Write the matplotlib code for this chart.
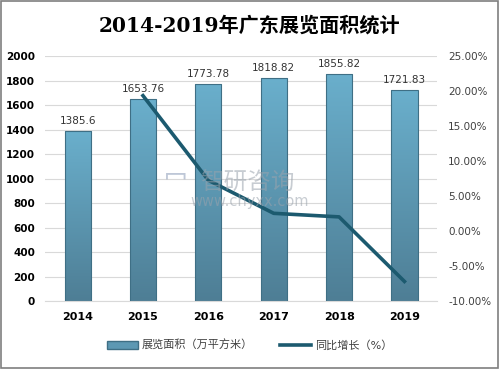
import matplotlib.pyplot as plt
import numpy as np
from matplotlib.colors import LinearSegmentedColormap
from matplotlib.patches import Rectangle
from matplotlib.lines import Line2D
from matplotlib.patches import Patch

plt.rcParams['font.family'] = ['DejaVu Sans', 'Noto Sans CJK SC']

years = ['2014', '2015', '2016', '2017', '2018', '2019']
area = [1385.6, 1653.76, 1773.78, 1818.82, 1855.82, 1721.83]
growth = [None, 19.35, 7.26, 2.54, 2.03, -7.19]

fig = plt.figure(figsize=(4.99, 3.69), dpi=100)
ax = fig.add_axes([0.090, 0.184, 0.786, 0.664])
ax2 = ax.twinx()

x = np.arange(len(years))
width = 0.4

# gradient bars (light top, darker bottom)
cmap = LinearSegmentedColormap.from_list('bar', ['#4e7e95', '#6aafcc'])
grad = np.linspace(0, 1, 256).reshape(-1, 1)
bars = ax.bar(x, area, width, color='none', edgecolor='#3f6f85', linewidth=0.8, zorder=3)
for b in bars:
    x0, y0 = b.get_x(), b.get_y()
    w, h = b.get_width(), b.get_height()
    im = ax.imshow(grad, extent=[x0, x0 + w, y0, y0 + h], origin='lower',
                   cmap=cmap, aspect='auto', zorder=2)
    im.set_clip_path(b)
for xi, v in zip(x, area):
    ax.text(xi, v + 40, f'{v:g}', ha='center', va='bottom', fontsize=7.5, color='#333333')

ax.set_xlim(-0.5, len(years) - 0.5)
ax.set_ylim(0, 2000)
ax.set_yticks(range(0, 2001, 200))
ax.set_xticks(x)
ax.set_xticklabels(years, fontsize=8, fontweight='bold')
ax.tick_params(axis='y', labelsize=7.5, length=0, pad=7)
for t in ax.get_yticklabels():
    t.set_fontweight('bold')
ax.tick_params(axis='x', length=0, pad=8)
ax.grid(axis='y', color='#d9d9d9', linewidth=0.8, zorder=0)
ax.set_axisbelow(True)
for s in ax.spines.values():
    s.set_visible(False)
ax.spines['bottom'].set_visible(True)
ax.spines['bottom'].set_color('#d9d9d9')

# growth line
gx = [xi for xi, g in zip(x, growth) if g is not None]
gy = [g for g in growth if g is not None]
ax2.plot(gx, gy, color='#1c5a6f', linewidth=2.6, zorder=4)
ax2.set_ylim(-10, 25)
ax2.set_yticks(range(-10, 26, 5))
ax2.set_yticklabels([f'{v:.2f}%' for v in range(-10, 26, 5)])
ax2.tick_params(axis='y', labelsize=7.5, length=0, pad=8, labelcolor='#404040')
for s in ax2.spines.values():
    s.set_visible(False)

# watermark
fig.text(0.40, 0.505, '智研咨询', fontsize=17, color='#9aa3ad', alpha=0.55, ha='left', va='center')
fig.text(0.375, 0.515, '冖', fontsize=17, color='#7f90b0', alpha=0.5, ha='right', va='center')
fig.text(0.50, 0.455, 'www.chyxx.com', fontsize=10.5, color='#9aa3ad', alpha=0.55, ha='center', va='center')

# title
fig.text(0.5, 0.93, '2014-2019年广东展览面积统计', ha='center', va='center', fontsize=14.5,
         fontweight='bold', family=['DejaVu Serif', 'Noto Sans CJK SC'])

# legend
handles = [Patch(facecolor='#5d98b3', edgecolor='#3f6f85'),
           Line2D([0], [0], color='#1c5a6f', linewidth=2.6)]
leg = fig.legend(handles, ['展览面积（万平方米）', '同比增长（%）'], loc='center', bbox_to_anchor=(0.5, 0.065),
                 ncol=2, frameon=False, fontsize=8, handlelength=2.8, columnspacing=2.5, handletextpad=0.3)
for t in leg.get_texts():
    t.set_color('#404040')

fig.patches.append(Rectangle((0.002, 0.003), 0.995, 0.994, transform=fig.transFigure,
                             fill=False, edgecolor='#7f7f7f', linewidth=1.2))
fig.patch.set_facecolor('white')
fig.savefig('out.png', dpi=100)
